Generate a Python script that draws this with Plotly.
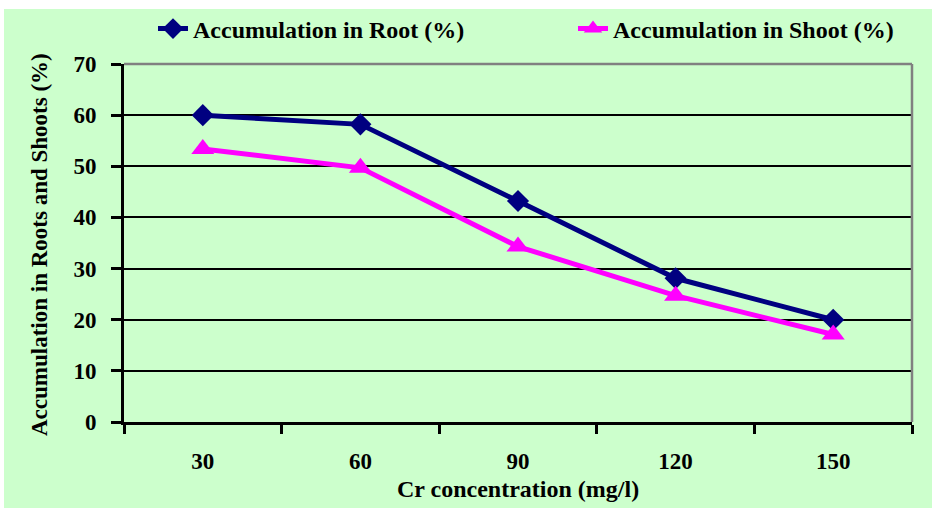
import plotly.graph_objects as go

categories = ["30", "60", "90", "120", "150"]
root_values = [60.0, 58.2, 43.2, 28.1, 20.0]
shoot_values = [53.4, 49.7, 34.3, 24.7, 17.1]
y_ticks = [0, 10, 20, 30, 40, 50, 60, 70]

W, H = 932, 508
L, R, T, B = 124, 20, 64, 86
PW, PH = W - L - R, H - T - B
FONT = "Liberation Serif"
BG = "#CCFFCC"


def px_x(x):
    return (x - L) / PW


def px_y(y):
    return (H - B - y) / PH


fig = go.Figure()
fig.add_trace(go.Scatter(
    x=categories, y=root_values, name="Accumulation in Root (%)",
    mode="lines+markers",
    line=dict(color="#000080", width=5),
    marker=dict(symbol="diamond", size=17, color="#000080"),
    legend="legend",
))
fig.add_trace(go.Scatter(
    x=categories, y=shoot_values, name="Accumulation in Shoot (%)",
    mode="lines+markers",
    line=dict(color="#FF00FF", width=5),
    marker=dict(symbol="triangle-up", size=20, color="#FF00FF"),
    legend="legend2",
))

legend_font = dict(family=FONT, size=24, color="black", weight="bold")

fig.update_layout(
    width=W, height=H,
    margin=dict(l=L, r=R, t=T, b=B, pad=0, autoexpand=False),
    paper_bgcolor="white",
    plot_bgcolor=BG,
    font=dict(family=FONT, size=22, color="black", weight="bold"),
    showlegend=True,
    legend=dict(
        orientation="h",
        xref="paper", yref="paper",
        x=px_x(153), y=px_y(29), xanchor="left", yanchor="middle",
        bgcolor="rgba(0,0,0,0)",
        font=legend_font,
    ),
    legend2=dict(
        orientation="h",
        xref="paper", yref="paper",
        x=px_x(573), y=px_y(29), xanchor="left", yanchor="middle",
        bgcolor="rgba(0,0,0,0)",
        font=legend_font,
    ),
    xaxis=dict(
        type="category",
        range=[-0.5, 4.5],
        tickson="boundaries",
        ticks="outside", ticklen=9, tickwidth=3, tickcolor="black",
        showline=True, linecolor="black", linewidth=3,
        showgrid=False, zeroline=False,
        ticklabelstandoff=16,
        tickfont=dict(family=FONT, size=23, color="black", weight="bold"),
    ),
    yaxis=dict(
        range=[0, 70],
        tickvals=y_ticks,
        ticks="outside", ticklen=10, tickwidth=3, tickcolor="black",
        showline=True, linecolor="black", linewidth=3,
        showgrid=True, gridcolor="black", gridwidth=1.5,
        zeroline=False,
        ticklabelstandoff=10,
        tickfont=dict(family=FONT, size=23, color="black", weight="bold"),
    ),
    shapes=[
        dict(type="rect", xref="paper", yref="paper",
             x0=px_x(4), x1=px_x(W), y0=px_y(H), y1=px_y(9),
             fillcolor=BG, line=dict(width=0), layer="below"),
        dict(type="line", xref="paper", yref="paper", x0=0, x1=1, y0=1, y1=1,
             line=dict(color="#808080", width=2.5), layer="above"),
        dict(type="line", xref="paper", yref="paper", x0=1, x1=1, y0=0, y1=1,
             line=dict(color="#808080", width=2.5), layer="above"),
    ],
    annotations=[
        dict(text="Cr concentration (mg/l)", xref="paper", yref="paper",
             x=0.5, y=px_y(489), xanchor="center", yanchor="middle",
             showarrow=False,
             font=dict(family=FONT, size=24, color="black", weight="bold")),
        dict(text="Accumulation in Roots and Shoots (%)", xref="paper", yref="paper",
             x=px_x(39), y=px_y(245), xanchor="center", yanchor="middle", textangle=-90,
             showarrow=False,
             font=dict(family=FONT, size=23, color="black", weight="bold")),
    ],
)

fig.write_html(
    "out.html",
    config={"displayModeBar": False},
    post_script="document.body.style.margin='0';document.body.style.overflow='hidden';",
)
